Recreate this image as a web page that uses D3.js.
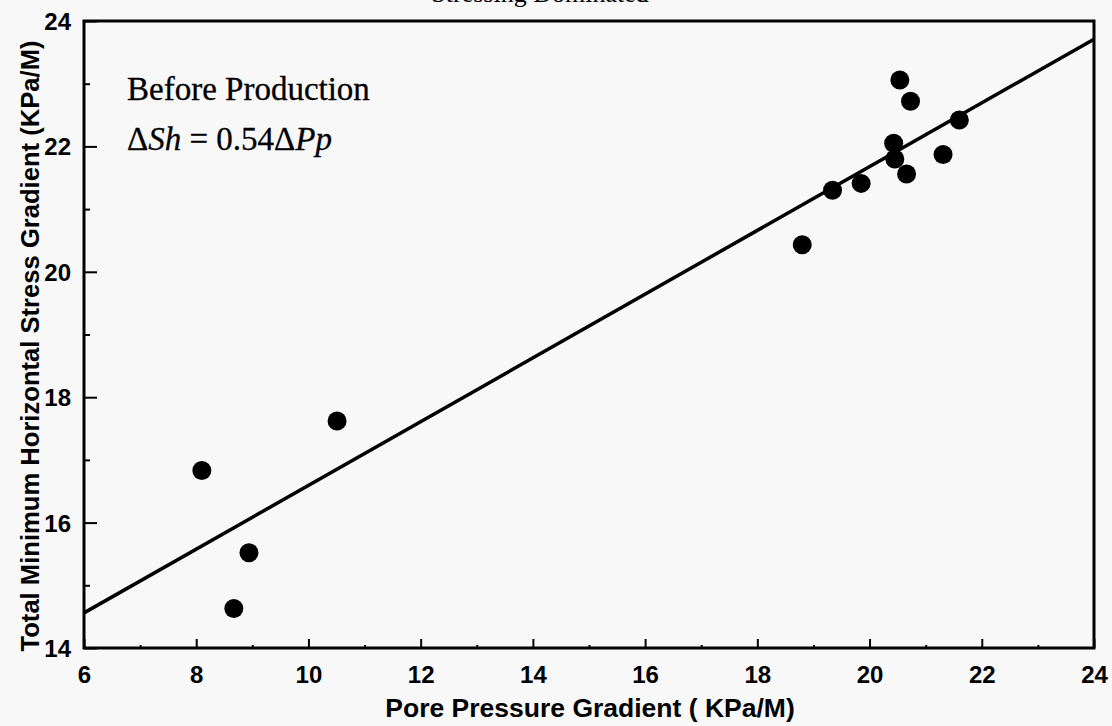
<html>
<head>
  <meta charset="UTF-8"/>
  <title>Before Production</title>
  <script src="https://d3js.org/d3.v7.min.js"></script>
  <style>
body {
  margin: 0;
  background-color: #f8f8f8;
}
svg {
  display: block;
}
.tick text, text.label {
  font-family: 'Liberation Sans', Arial, sans-serif;
  font-weight: bold;
  fill: #000;
}
.tick text {
  font-size: 24px;
}
text.label {
  font-size: 26.5px;
}
text.ylabel {
  font-size: 25.6px;
}
text.note {
  font-family: 'Liberation Serif', 'Times New Roman', serif;
  font-size: 33px;
  fill: #000;
  stroke: #000;
  stroke-width: 0.3;
}
text.title {
  font-family: 'Liberation Serif', 'Times New Roman', serif;
  font-size: 26px;
  fill: #000;
}
.axis path, .axis line {
  stroke: #000;
}
  </style>
</head>
<body>
  <svg width="1112" height="726"></svg>
<script>

// measured points (pore pressure gradient, min horizontal stress gradient)
const pore = [8.10, 10.51, 8.94, 8.67, 20.54, 20.73, 21.60, 20.43, 20.45, 20.66, 21.31, 19.85, 19.34, 18.80];
const stress = [16.83, 17.62, 15.52, 14.63, 23.06, 22.72, 22.42, 22.05, 21.80, 21.56, 21.87, 21.41, 21.30, 20.43];

// fitted line end points
const fitX = [6, 24];
const fitY = [14.56, 23.71];

const xTicks = [6, 8, 10, 12, 14, 16, 18, 20, 22, 24];
const yTicks = [14, 16, 18, 20, 22, 24];

const svg = d3.select('svg');

const mLeft = 84, mTop = 21, mRight = 1094, mBottom = 648;
const width = mRight - mLeft;
const height = mBottom - mTop;

const chart = svg.append('g')
  .attr('transform', `translate(${mLeft}, ${mTop})`);

const xScale = d3.scaleLinear().domain([6, 24]).range([0, width]);
const yScale = d3.scaleLinear().domain([14, 24]).range([height, 0]);

// minor ticks
chart.append('g')
  .attr('class', 'axis')
  .attr('transform', `translate(0, ${height})`)
  .call(d3.axisTop(xScale).tickValues(d3.range(7, 24, 2)).tickSize(3).tickFormat(''))
  .call(g => g.select('.domain').remove())
  .selectAll('line').attr('stroke-width', 2);

chart.append('g')
  .attr('class', 'axis')
  .call(d3.axisRight(yScale).tickValues(d3.range(15, 24, 2)).tickSize(6).tickFormat(''))
  .call(g => g.select('.domain').remove())
  .selectAll('line').attr('stroke-width', 2);

// major ticks + labels
chart.append('g')
  .attr('class', 'axis')
  .attr('transform', `translate(0, ${height})`)
  .call(d3.axisBottom(xScale).tickValues(xTicks).tickSizeInner(-9).tickSizeOuter(0).tickPadding(18))
  .call(g => g.select('.domain').remove())
  .call(g => g.selectAll('line').attr('stroke-width', 2));

chart.append('g')
  .attr('class', 'axis')
  .call(d3.axisLeft(yScale).tickValues(yTicks).tickSizeInner(-13).tickSizeOuter(0).tickPadding(13))
  .call(g => g.select('.domain').remove())
  .call(g => g.selectAll('line').attr('stroke-width', 2))
  .call(g => g.selectAll('text').attr('dy', '0.35em'));

// frame
chart.append('rect')
  .attr('x', 0)
  .attr('y', 0)
  .attr('width', width)
  .attr('height', height)
  .attr('fill', 'none')
  .attr('stroke', '#000')
  .attr('stroke-width', 3);

// fit line
const line = d3.line()
  .x((d, i) => xScale(fitX[i]))
  .y((d, i) => yScale(fitY[i]));

chart.append('path')
  .datum(fitX)
  .attr('d', line)
  .attr('fill', 'none')
  .attr('stroke', '#000')
  .attr('stroke-width', 3.5);

// points
chart.selectAll('circle.pt')
  .data(pore)
  .enter()
  .append('circle')
  .attr('class', 'pt')
  .attr('cx', (d) => xScale(d))
  .attr('cy', (d, i) => yScale(stress[i]))
  .attr('r', 9.5)
  .attr('fill', '#000');

// notes
chart.append('text')
  .attr('class', 'note')
  .attr('x', 43)
  .attr('y', 79)
  .text('Before Production');

const eq = chart.append('text')
  .attr('class', 'note')
  .attr('x', 43)
  .attr('y', 129);
eq.append('tspan').text('Δ');
eq.append('tspan').attr('font-style', 'italic').text('Sh');
eq.append('tspan').text(' = 0.54Δ');
eq.append('tspan').attr('font-style', 'italic').text('Pp');

// axis labels
svg.append('text')
  .attr('class', 'label')
  .attr('x', 590)
  .attr('y', 717)
  .attr('text-anchor', 'middle')
  .text('Pore Pressure Gradient ( KPa/M)');

svg.append('text')
  .attr('class', 'label ylabel')
  .attr('transform', 'translate(39, 346) rotate(-90)')
  .attr('text-anchor', 'middle')
  .text('Total Minimum Horizontal Stress Gradient (KPa/M)');

// title, cut at top of page
svg.append('text')
  .attr('class', 'title')
  .attr('x', 540)
  .attr('y', 2)
  .attr('text-anchor', 'middle')
  .text('Stressing Dominated');

</script>
</body>
</html>
